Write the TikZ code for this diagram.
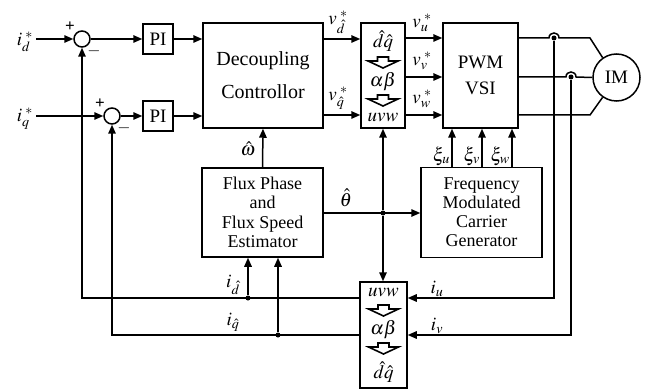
\documentclass[tikz,border=0pt]{standalone}
\usepackage{mathptmx}
\usepackage{fontspec}
\setmainfont{Liberation Serif}
\usetikzlibrary{arrows.meta}
\begin{document}
\begin{tikzpicture}[x=1pt,y=-1pt,
  wire/.style={line width=1.5pt},
  arr/.style={line width=1.5pt,-{Triangle[length=9pt,width=7.5pt]}},
  blk/.style={draw,line width=1.5pt,rectangle,inner sep=0pt,align=center},
  sumc/.style={draw,line width=1.5pt,circle,minimum size=16pt,inner sep=0pt},
  lbl/.style={inner sep=0pt,font=\fontsize{19}{22}\selectfont},
  sgn/.style={inner sep=0pt,font=\fontsize{17}{18}\selectfont\bfseries},
  dot/.style={circle,fill,inner sep=0pt,minimum size=5pt},
  harrow/.pic={\draw[line width=1.6pt,fill=white] (-5.5,0) -- (5.5,0) -- (5.5,4) -- (15,4) -- (0,11) -- (-15,4) -- (-5.5,4) -- cycle;}
]
\useasboundingbox (0,0) rectangle (647,390);

% blocks
\node[sumc] (s1) at (82,39) {};
\node[sumc] (s2) at (112,116) {};
\node[blk,minimum width=30pt,minimum height=30pt,font=\fontsize{19}{22}\selectfont] (pi1) at (158,39) {PI};
\node[blk,minimum width=30pt,minimum height=30pt,font=\fontsize{19}{22}\selectfont] (pi2) at (158,116) {PI};
\node[blk,minimum width=120pt,minimum height=105pt,font=\fontsize{20}{33}\selectfont] (dec) at (263,75.5) {Decoupling\\Controllor};
\node[blk,minimum width=44pt,minimum height=105pt] (t1) at (383,75.5) {};
\node[blk,minimum width=75pt,minimum height=105pt,font=\fontsize{19}{26}\selectfont] (pwm) at (480.5,75.5) {PWM\\VSI};
\node[draw,line width=1.5pt,circle,minimum size=47pt,inner sep=0pt,font=\fontsize{19}{22}\selectfont] (im) at (616.5,77.5) {IM};
\node[blk,minimum width=121pt,minimum height=89pt,font=\fontsize{18}{19.5}\selectfont] (est) at (262.5,212.5) {Flux Phase\\and\\Flux Speed\\Estimator};
\node[blk,minimum width=121pt,minimum height=90pt,font=\fontsize{18}{19}\selectfont] (fm) at (481.5,212.5) {Frequency\\Modulated\\Carrier\\Generator};
\node[blk,minimum width=47pt,minimum height=106pt] (t2) at (383.5,335) {};

% transformation box 1 contents
\node[lbl] (t1a) at (383,41) {$\hat d\hat q$};
\pic at (383,57) {harrow};
\node[lbl] (t1b) at (383,82) {$\alpha\beta$};
\pic at (383,95) {harrow};
\node[lbl] (t1c) at (383,118) {$uvw$};
% transformation box 2 contents
\node[lbl] (t2a) at (383.5,293) {$uvw$};
\pic at (383.5,305) {harrow};
\node[lbl] (t2b) at (383.5,330) {$\alpha\beta$};
\pic at (383.5,343) {harrow};
\node[lbl] (t2c) at (383.5,372) {$\hat d\hat q$};

% inputs
\coordinate (idin) at (36,39);
\coordinate (iqin) at (36,116);
\node[lbl,anchor=east] (idl) at (33,42) {$i_d^{\;*}$};
\node[lbl,anchor=east] (iql) at (33,119) {$i_q^{\;*}$};
\draw[arr] (idin) -- (s1);
\draw[arr] (iqin) -- (s2);
\node[sgn] (p1) at (70,27) {+};
\node[sgn] (m1) at (94,51) {$-$};
\node[sgn] (p2) at (100,104) {+};
\node[sgn] (m2) at (124,128) {$-$};

\draw[arr] (s1) -- (pi1);
\draw[arr] (s2) -- (pi2);
\draw[arr] (pi1) -- (pi1 -| dec.west);
\draw[arr] (pi2) -- (pi2 -| dec.west);

% decoupling -> t1
\draw[arr] (dec.east |- 0,39) -- (t1.west |- 0,39);
\draw[arr] (dec.east |- 0,115) -- (t1.west |- 0,115);
\node[lbl] (vdl) at (338,22) {$v_{\hat d}^{\;*}$};
\node[lbl] (vql) at (338,98) {$v_{\hat q}^{\;*}$};

% t1 -> pwm
\draw[arr] (t1.east |- 0,38) -- (pwm.west |- 0,38);
\draw[arr] (t1.east |- 0,77) -- (pwm.west |- 0,77);
\draw[arr] (t1.east |- 0,115) -- (pwm.west |- 0,115);
\node[lbl] (vul) at (422,23) {$v_u^{\;*}$};
\node[lbl] (vvl) at (422,61) {$v_v^{\;*}$};
\node[lbl] (vwl) at (422,99) {$v_w^{\;*}$};

% pwm -> motor with sensors
\coordinate (su) at (554,38);
\coordinate (sv) at (571,77);
\draw[wire] (pwm.east |- 0,38) -- (549,38) .. controls (549,31.3) and (559,31.3) .. (559,38) -- (590,38) -- (im.125);
\draw[wire] (pwm.east |- 0,77) -- (566,77) .. controls (566,70.3) and (576,70.3) .. (576,77) -- (im.west);
\draw[wire] (pwm.east |- 0,115) -- (590,115) -- (im.235);
\node[dot] (du) at (su) {};
\node[dot] (dv) at (sv) {};

% current feedback
\draw[arr] (du) -- (554,298) -- (t2.east |- 0,298);
\draw[arr] (dv) -- (571,335) -- (t2.east |- 0,335);
\node[lbl] (iul) at (437,289) {$i_u$};
\node[lbl] (ivl) at (437,326) {$i_v$};

% omega and theta
\draw[arr] (est.north) -- (dec.south);
\node[lbl] (wl) at (248,149) {$\hat\omega$};
\coordinate (th) at (383,213);
\draw[arr] (est.east |- th) -- (fm.west |- th);
\node[dot] (thd) at (th) {};
\draw[arr] (thd) -- (t1.south -| thd);
\draw[arr] (thd) -- (t2.north -| thd);
\node[lbl] (thl) at (346,198) {$\hat\theta$};

% xi
\foreach \x/\s in {452/u,482/v,512/w}{
  \draw[arr] (fm.north -| \x,0) -- (pwm.south -| \x,0);
  \node[lbl,anchor=east] at (\x-2,156) {$\xi_{\s}$};
}

% id, iq feedback
\draw[arr] (t2.west |- 0,298) -- (82,298) -- (s1.south);
\draw[arr] (t2.west |- 0,335) -- (112,335) -- (s2.south);
\node[dot] (dd) at (248,298) {};
\node[dot] (dq) at (278,335) {};
\draw[arr] (dd) -- (est.south -| dd);
\draw[arr] (dq) -- (est.south -| dq);
\node[lbl] (idl2) at (233,285) {$i_{\hat d}$};
\node[lbl] (iql2) at (233,322) {$i_{\hat q}$};
\end{tikzpicture}
\end{document}
